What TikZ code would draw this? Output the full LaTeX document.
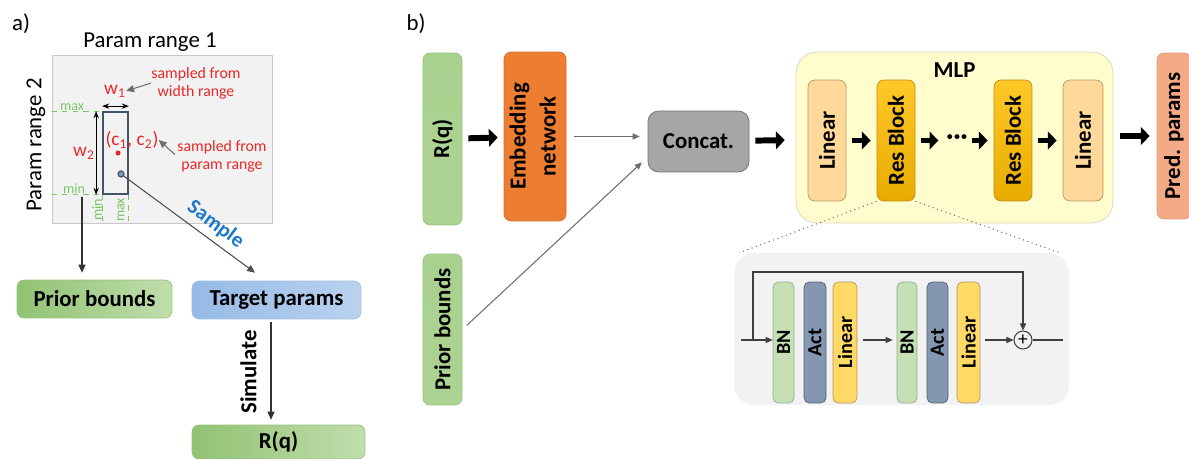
\documentclass[tikz,border=0pt]{standalone}
\usepackage{fontspec}
\setmainfont{Carlito}
\usepackage{graphicx}
\usepackage{xcolor}
\definecolor{greendark}{RGB}{145,194,115}
\definecolor{greenlight}{RGB}{192,222,172}
\definecolor{greenfill}{RGB}{169,209,142}
\definecolor{greenedge}{RGB}{150,195,125}
\definecolor{bluedark}{RGB}{150,186,230}
\definecolor{bluelight}{RGB}{186,210,240}
\definecolor{blueedge}{RGB}{160,190,228}
\definecolor{embedorange}{RGB}{237,125,49}
\definecolor{concatgray}{RGB}{166,166,166}
\definecolor{concatedge}{RGB}{112,112,112}
\definecolor{mlpfill}{RGB}{255,253,206}
\definecolor{mlpedge}{RGB}{214,214,190}
\definecolor{linfill}{RGB}{255,217,153}
\definecolor{linedge}{RGB}{185,150,95}
\definecolor{restop}{RGB}{255,200,40}
\definecolor{resbottom}{RGB}{232,172,0}
\definecolor{resedge}{RGB}{190,140,20}
\definecolor{predfill}{RGB}{245,170,135}
\definecolor{bnfill}{RGB}{197,224,180}
\definecolor{bnedge}{RGB}{150,172,140}
\definecolor{actfill}{RGB}{132,151,176}
\definecolor{actedge}{RGB}{85,95,115}
\definecolor{lingold}{RGB}{255,217,102}
\definecolor{insetgray}{RGB}{242,242,242}
\definecolor{framegray}{RGB}{200,200,200}
\definecolor{slateedge}{RGB}{68,84,106}
\definecolor{labelred}{RGB}{232,40,40}
\definecolor{dashgreen}{RGB}{120,200,100}
\definecolor{sampleblue}{RGB}{30,120,200}
\definecolor{linegray}{RGB}{110,110,110}
\usetikzlibrary{positioning, calc, arrows.meta}

\tikzset{
  blockfont/.style={font=\bfseries\fontsize{13}{16}\selectfont},
  block/.style={blockfont, rounded corners=4pt, inner sep=0pt},
  hgreen/.style={block, draw=greenedge, left color=greendark, right color=greenlight},
  vgreen/.style={block, draw=greenedge, top color=greenfill, bottom color=greenfill!85!greenlight},
  hblue/.style={block, draw=blueedge, left color=bluedark, right color=bluelight},
  mlpunit/.style={block, minimum width=0.76cm, minimum height=2.42cm},
  linunit/.style={mlpunit, draw=linedge, fill=linfill},
  resunit/.style={mlpunit, draw=resedge, top color=restop, bottom color=resbottom},
  layer/.style={rounded corners=3pt, inner sep=0pt, minimum height=2.42cm,
    font=\bfseries\fontsize{11.5}{13}\selectfont},
  fatarrow/.style={line width=3.4pt, -{Triangle[length=5pt,width=10pt]},
    shorten <=0.12cm, shorten >=0.12cm},
  ptr/.style={line width=0.6pt, -{Triangle[length=4.5pt,width=4pt]}},
  thinptr/.style={draw=linegray, line width=0.6pt, -{Triangle[length=4pt,width=3.5pt]}},
  dimarrow/.style={line width=0.7pt, {Stealth[length=4pt]}-{Stealth[length=4pt]}},
  redlabel/.style={text=labelred, font=\fontsize{9}{10.2}\selectfont, align=center, inner sep=0pt},
  greenlabel/.style={text=dashgreen, font=\fontsize{8}{9}\selectfont, inner sep=0pt},
  greendash/.style={draw=dashgreen, dashed, line width=0.7pt},
}

\begin{document}
\begin{tikzpicture}[x=0.02cm, y=-0.02cm]
    \useasboundingbox (0,0) rectangle (1189,459);

    % ---------------- Panel a ----------------
    \node[font=\fontsize{13}{15}\selectfont] (alabel) at (21,24) {a)};
    \node[font=\fontsize{13}{15}\selectfont] (range1) at (150,42) {Param range 1};
    \node[font=\fontsize{13}{15}\selectfont] (range2) at (36,145) {\rotatebox{90}{Param range 2}};

    % Parameter space and sampled window
    \node[draw=framegray, fill=insetgray, minimum width=4.4cm, minimum height=3.36cm, inner sep=0pt] (range) at (162,139) {};
    \node[draw=slateedge, line width=1pt, minimum width=0.5cm, minimum height=1.64cm, inner sep=0pt] (win) at (115.5,153) {};

    % Bounds of the window
    \draw[greendash] (range.west |- win.north) -- (win.north west);
    \draw[greendash] (range.west |- win.south) -- (win.south west);
    \draw[greendash] (win.south west) -- (win.south west |- range.south);
    \draw[greendash] (win.south east) -- (win.south east |- range.south);
    \node[greenlabel] (maxy) at (72,107) {max};
    \node[greenlabel] (miny) at (74,189) {min};
    \node[greenlabel] (minx) at (97,210) {\rotatebox{90}{min}};
    \node[greenlabel] (maxx) at (121,210) {\rotatebox{90}{max}};

    % Widths
    \draw[dimarrow] ([yshift=0.1cm]win.north west) -- ([yshift=0.1cm]win.north east);
    \draw[dimarrow] ([xshift=-0.12cm]win.north west) -- ([xshift=-0.12cm]win.south west);
    \node[redlabel, font=\fontsize{11}{12}\selectfont] (w1) at (115,91) {w\textsubscript{1}};
    \node[redlabel, font=\fontsize{11}{12}\selectfont] (w2) at (84,153) {w\textsubscript{2}};
    \node[redlabel] (wtext) at (196,83) {sampled from\\width range};
    \draw[ptr, draw=linegray] (wtext.west) -- (w1.east);

    % Centre
    \node[redlabel, font=\fontsize{11}{12}\selectfont] (cc) at (132,140) {(c\textsubscript{1}, c\textsubscript{2})};
    \node[circle, fill=labelred, minimum size=0.1cm, inner sep=0pt] (cdot) at (118,153) {};
    \node[circle, draw=slateedge, fill=bluedark!70!slateedge, line width=0.7pt, minimum size=0.12cm, inner sep=0pt] (sdot) at (121,174) {};
    \node[redlabel] (ctext) at (222,156.5) {sampled from\\param range};
    \draw[ptr, draw=linegray, shorten <=0.06cm] (ctext.west) -- (cc.east);

    % Outputs of the sampling
    \node[hgreen, minimum width=3.1cm, minimum height=0.76cm] (priora) at (94.5,299) {Prior bounds};
    \node[hblue, minimum width=3.38cm, minimum height=0.76cm] (target) at (276.5,300) {Target params};
    \node[hgreen, minimum width=3.46cm, minimum height=0.68cm] (rqa) at (278.5,442) {R(q)};

    \coordinate (minpt) at (82,197);
    \draw[ptr, draw=black!80] (minpt) -- (minpt |- priora.north) [shorten >=0.14cm];
    \draw[ptr, draw=black!70] (sdot) -- node[pos=0.63, sloped, above, text=sampleblue,
        font=\bfseries\fontsize{12}{14}\selectfont] {Sample} ([xshift=-0.43cm, yshift=0.16cm]target.north);
    \draw[ptr, draw=black!80, shorten <=0.06cm, shorten >=0.1cm] ([xshift=-0.11cm]target.south)
        -- node[midway, left=0.16cm, blockfont] {\rotatebox{90}{Simulate}} ([xshift=-0.11cm]target.south |- rqa.north);

    % ---------------- Panel b ----------------
    \node[font=\fontsize{13}{15}\selectfont] (blabel) at (416,24) {b)};

    \node[vgreen, minimum width=0.78cm, minimum height=3.44cm] (rqb) at (442.5,139) {\rotatebox{90}{R(q)}};
    \node[block, fill=embedorange, draw=embedorange!90!black, minimum width=1.24cm, minimum height=3.38cm] (emb) at (535,136.5)
        {\rotatebox{90}{\begin{tabular}{@{}c@{}}Embedding\\[1pt]network\end{tabular}}};
    \node[block, fill=concatgray, draw=concatedge, rounded corners=6pt, minimum width=2.02cm, minimum height=1.22cm] (concat) at (698.5,141.5) {Concat.};
    \node[vgreen, minimum width=0.78cm, minimum height=3.02cm] (priorb) at (442.5,329.5) {\rotatebox{90}{Prior bounds}};

    % MLP
    \node[draw=mlpedge, fill=mlpfill, rounded corners=12pt, minimum width=6.34cm, minimum height=3.42cm, inner sep=0pt] (mlp) at (954.5,137.5) {};
    \node[blockfont] (mlptitle) at ([yshift=-0.36cm]mlp.north) {MLP};
    \node[linunit] (lin1) at (827,140.5) {\rotatebox{90}{Linear}};
    \node[resunit] (res1) at (896,140.5) {\rotatebox{90}{Res Block}};
    \node[font=\bfseries\fontsize{15}{15}\selectfont, inner sep=1pt] (dots) at (957,140) {···};
    \node[resunit] (res2) at (1013,140.5) {\rotatebox{90}{Res Block}};
    \node[linunit, minimum width=0.8cm] (lin2) at (1083,140.5) {\rotatebox{90}{Linear}};
    \node[block, fill=predfill, draw=predfill!90!black, minimum width=0.68cm, minimum height=3.32cm] (pred) at (1174,136) {\rotatebox{90}{Pred. params}};

    \draw[fatarrow] (rqb) -- (emb);
    \draw[thinptr, shorten <=0.16cm, shorten >=0.16cm] (emb.east) -- (emb.east -| concat.west);
    \draw[thinptr, shorten <=0.12cm, shorten >=0.16cm] (priorb.east) -- (concat.197);
    \draw[fatarrow, shorten >=0.22cm] (concat) -- (mlp);
    \draw[fatarrow, shorten <=0.14cm, shorten >=0.14cm] (mlp.east |- pred.west) -- (pred.west);
    \draw[fatarrow] (lin1) -- (res1);
    \draw[fatarrow, shorten >=0.12cm] (res1.east) -- (res1.east -| dots.west);
    \draw[fatarrow, shorten <=0.04cm] (dots.east |- res2.west) -- (res2.west);
    \draw[fatarrow] (res2) -- (lin2);

    % Inside a residual block
    \node[fill=insetgray, rounded corners=0.4cm, minimum width=6.7cm, minimum height=3.04cm, inner sep=0pt] (resblk) at (901.5,329) {};
    \draw[linegray, dotted, line width=0.6pt] (res1.south west) -- ([xshift=0.12cm]resblk.north west);
    \draw[linegray, dotted, line width=0.6pt] (res1.south east) -- ([xshift=-0.2cm]resblk.north east);

    \node[layer, fill=bnfill, draw=bnedge, minimum width=0.42cm] (bn1) at (783.5,342.5) {\rotatebox{90}{BN}};
    \node[layer, fill=actfill, draw=actedge, minimum width=0.44cm] (act1) at (815,342.5) {\rotatebox{90}{Act}};
    \node[layer, fill=lingold, draw=linedge, minimum width=0.48cm] (lina) at (845,342.5) {\rotatebox{90}{Linear}};
    \node[layer, fill=bnfill, draw=bnedge, minimum width=0.4cm] (bn2) at (907,342.5) {\rotatebox{90}{BN}};
    \node[layer, fill=actfill, draw=actedge, minimum width=0.42cm] (act2) at (937.5,342.5) {\rotatebox{90}{Act}};
    \node[layer, fill=lingold, draw=linedge, minimum width=0.46cm] (linb) at (968.5,342.5) {\rotatebox{90}{Linear}};
    \node[circle, draw=black!75, line width=0.6pt, minimum size=0.36cm, inner sep=0pt, font=\fontsize{11}{11}\selectfont] (add) at (1023,340) {+};

    \coordinate (rin) at (741,340);
    \coordinate (skip) at (753,340);
    \coordinate (rout) at (1063,340);
    \coordinate (skiptop) at (add |- 0,272);
    \draw[thinptr, draw=black!75] (rin) -- (rin -| bn1.west);
    \draw[thinptr, draw=black!75, shorten <=0.12cm, shorten >=0.08cm] (lina.east |- rin) -- (bn2.west |- rin);
    \draw[thinptr, draw=black!75, shorten <=0.1cm] (linb.east |- add) -- (add.west);
    \draw[thinptr, draw=black!75] (skip) |- (skiptop) -- (add.north);
    \draw[black!75, line width=0.6pt] (add.east) -- (rout);
\end{tikzpicture}
\end{document}
